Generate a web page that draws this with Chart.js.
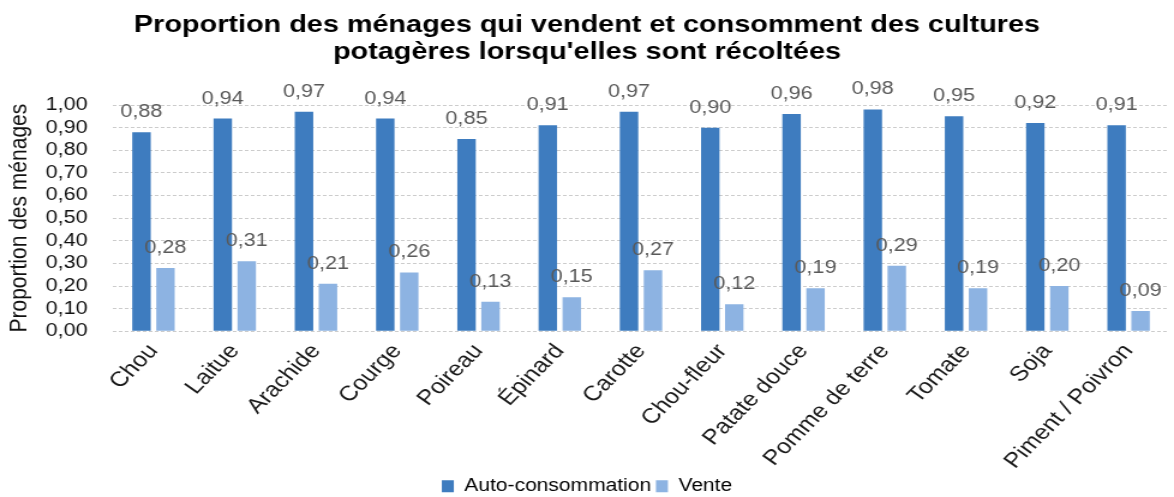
<!DOCTYPE html>
<html>
<head>
<meta charset="utf-8">
<title>Cultures potagères</title>
<script src="https://cdn.jsdelivr.net/npm/chart.js@4"></script>
<style>
  html, body { margin: 0; padding: 0; background: #fff; overflow: hidden; }
  /* the figure is laid out narrower and widened to the final width */
  #wrap { width: 978px; height: 497px; transform: scaleX(1.2004); transform-origin: 0 0; }
</style>
</head>
<body>
<div id="wrap"><canvas id="chart"></canvas></div>
<script>
const cultures = ['Chou', 'Laitue', 'Arachide', 'Courge', 'Poireau', 'Épinard', 'Carotte',
  'Chou-fleur', 'Patate douce', 'Pomme de terre', 'Tomate', 'Soja', 'Piment / Poivron'];
const autoConsommation = [0.88, 0.94, 0.97, 0.94, 0.85, 0.91, 0.97, 0.90, 0.96, 0.98, 0.95, 0.92, 0.91];
const vente = [0.28, 0.31, 0.21, 0.26, 0.13, 0.15, 0.27, 0.12, 0.19, 0.29, 0.19, 0.20, 0.09];

const FONT = '"Liberation Sans", Arial, sans-serif';
const fmt = v => v.toFixed(2).replace('.', ',');

// writes each bar's value above it
const valueLabels = {
  id: 'valueLabels',
  afterDatasetsDraw(chart) {
    const ctx = chart.ctx;
    ctx.save();
    ctx.font = '18px ' + FONT;
    ctx.fillStyle = '#595959';
    ctx.textAlign = 'center';
    ctx.textBaseline = 'bottom';
    chart.data.datasets.forEach((ds, i) => {
      chart.getDatasetMeta(i).data.forEach((bar, j) => {
        ctx.fillText(fmt(ds.data[j]), bar.x, bar.y - 11);
      });
    });
    ctx.restore();
  }
};

new Chart(document.getElementById('chart'), {
  type: 'bar',
  data: {
    labels: cultures,
    datasets: [
      {
        label: 'Auto-consommation',
        data: autoConsommation,
        backgroundColor: '#3e7cbf',
        categoryPercentage: 0.59,
        barPercentage: 0.77
      },
      {
        label: 'Vente',
        data: vente,
        backgroundColor: '#8db3e2',
        categoryPercentage: 0.59,
        barPercentage: 0.77
      }
    ]
  },
  options: {
    responsive: true,
    maintainAspectRatio: false,
    animation: false,
    layout: { padding: { left: 4, right: 4, top: 0, bottom: -8 } },
    plugins: {
      title: {
        display: true,
        text: ['Proportion des ménages qui vendent et consomment des cultures',
               "potagères lorsqu'elles sont récoltées"],
        color: '#000',
        font: { family: FONT, size: 24, weight: 'bold', lineHeight: 1.125 },
        padding: { top: 12, bottom: 39 }
      },
      legend: {
        position: 'bottom',
        labels: {
          boxWidth: 10,
          boxHeight: 12,
          padding: 4,
          color: '#000',
          font: { family: FONT, size: 17.5 }
        }
      },
      tooltip: { enabled: false }
    },
    scales: {
      x: {
        grid: { display: false },
        border: { display: false },
        ticks: {
          minRotation: 50,
          maxRotation: 50,
          padding: 0,
          color: '#1a1a1a',
          font: { family: FONT, size: 21 }
        }
      },
      y: {
        min: 0,
        max: 1,
        border: { display: false, dash: [3, 2] },
        grid: { color: '#cccccc', drawTicks: false },
        afterFit: scale => { scale.width = 90; },
        ticks: {
          stepSize: 0.1,
          autoSkip: false,
          padding: 21,
          color: '#111',
          font: { family: FONT, size: 18 },
          callback: v => fmt(v)
        },
        title: {
          display: true,
          text: 'Proportion des ménages',
          color: '#111',
          font: { family: FONT, size: 21 },
          padding: { top: 0, bottom: 0 }
        }
      }
    }
  },
  plugins: [valueLabels]
});
</script>
</body>
</html>
